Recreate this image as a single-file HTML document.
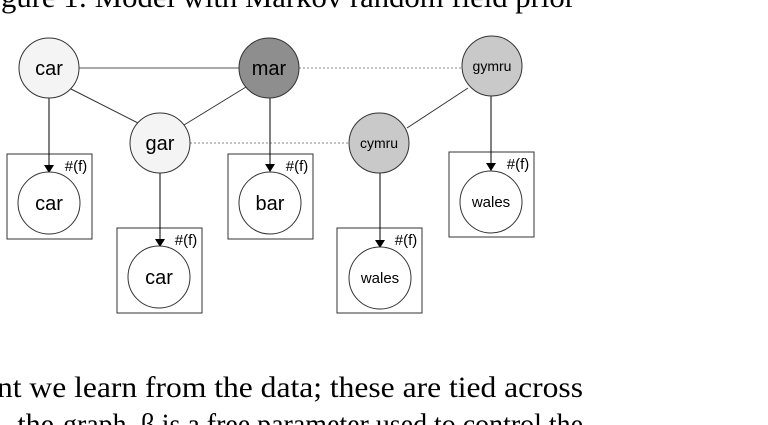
<!DOCTYPE html>
<html><head><meta charset="utf-8"><style>
html,body{margin:0;padding:0;background:#fff;overflow:hidden}
svg{display:block}
.n{font-family:"Liberation Sans",sans-serif;fill:#000;text-anchor:middle}
.t{font-family:"Liberation Serif",serif;font-size:30px;fill:#000}
</style></head><body>
<svg width="768" height="425" viewBox="0 0 768 425">
<defs><marker id="ah" markerWidth="8" markerHeight="10" refX="8" refY="5" orient="auto" markerUnits="userSpaceOnUse"><path d="M0,0 L8,5 L0,10 Z" fill="#000"/></marker></defs>
<text class="t" x="1" y="7" textLength="574" lengthAdjust="spacingAndGlyphs">gure 1: Model with Markov random field prior</text>

<g stroke-width="1" fill="none">
<line x1="79" y1="68" x2="239" y2="68" stroke="#555"/>
<line x1="299" y1="68" x2="462" y2="68" stroke="#888" stroke-dasharray="2,2"/>
<line x1="71" y1="89" x2="138" y2="123" stroke="#333"/>
<line x1="184" y1="125" x2="246" y2="87" stroke="#333"/>
<line x1="190" y1="143" x2="349" y2="143" stroke="#888" stroke-dasharray="2,2"/>
<line x1="407" y1="128" x2="468" y2="88" stroke="#333"/>
</g>

<g stroke="#333" fill="none">
<rect x="7" y="154" width="85" height="85"/>
<rect x="117" y="228" width="85" height="85"/>
<rect x="228" y="154" width="85" height="85"/>
<rect x="337" y="228" width="85" height="85"/>
<rect x="449" y="152" width="85" height="85"/>
</g>

<g stroke="#000" marker-end="url(#ah)">
<line x1="49" y1="98" x2="49" y2="173"/>
<line x1="160" y1="173" x2="160" y2="247"/>
<line x1="270" y1="98" x2="270" y2="172"/>
<line x1="380" y1="173" x2="380" y2="248"/>
<line x1="491" y1="96" x2="491" y2="171"/>
</g>

<g stroke="#333">
<circle cx="49" cy="68" r="30" fill="#f4f4f4"/>
<circle cx="269" cy="68" r="30" fill="#8e8e8e"/>
<circle cx="492" cy="66" r="30" fill="#c9c9c9"/>
<circle cx="160" cy="143" r="30" fill="#f4f4f4"/>
<circle cx="379" cy="143" r="30" fill="#c9c9c9"/>
<circle cx="49" cy="203" r="31" fill="#fff"/>
<circle cx="159" cy="277" r="31" fill="#fff"/>
<circle cx="270" cy="203" r="31" fill="#fff"/>
<circle cx="380" cy="278" r="31" fill="#fff"/>
<circle cx="491" cy="202" r="31" fill="#fff"/>
</g>

<g class="n">
<text x="49" y="75" font-size="20">car</text>
<text x="269" y="75" font-size="20">mar</text>
<text x="492" y="71" font-size="14">gymru</text>
<text x="160" y="150" font-size="20">gar</text>
<text x="379" y="148" font-size="14">cymru</text>
<text x="49" y="210" font-size="20">car</text>
<text x="159" y="284" font-size="20">car</text>
<text x="270" y="210" font-size="20">bar</text>
<text x="380" y="283" font-size="15">wales</text>
<text x="491" y="207" font-size="15">wales</text>
</g>
<g class="n" font-size="15">
<text x="76" y="171">#(f)</text>
<text x="186" y="245">#(f)</text>
<text x="297" y="171">#(f)</text>
<text x="406" y="245">#(f)</text>
<text x="518" y="169">#(f)</text>
</g>

<text class="t" x="-3" y="397" textLength="586" lengthAdjust="spacingAndGlyphs">nt we learn from the data; these are tied across</text>
<text class="t" x="54" y="434" text-anchor="end">the</text>
<text class="t" x="63" y="434" textLength="520" lengthAdjust="spacingAndGlyphs">graph. β is a free parameter used to control the</text>
</svg>
</body></html>
